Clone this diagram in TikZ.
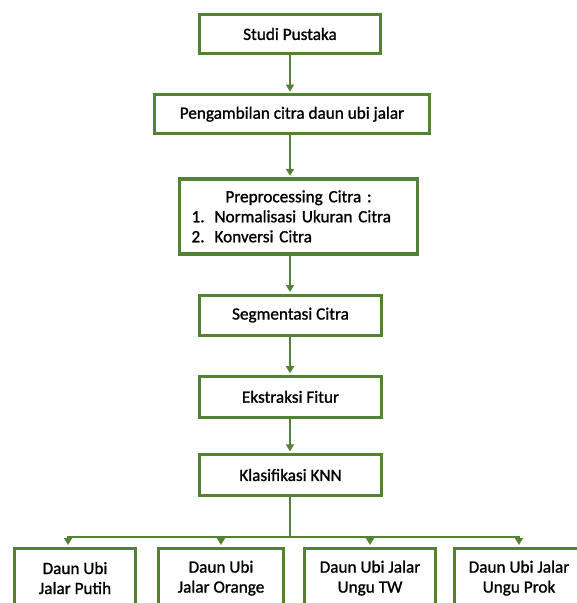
\documentclass[tikz,border=0pt]{standalone}
\usepackage{fontspec}
\setmainfont{Carlito}
\newfontfamily\boxfont{Carlito}[FakeBold=1.2]
\usetikzlibrary{positioning, arrows.meta}
\definecolor{leafgreen}{RGB}{84,130,53}
\tikzset{stepbox/.style={rectangle, draw=leafgreen, line width=3.2pt, fill=white, inner sep=0pt, text centered, font=\boxfont\fontsize{17.2}{20}\selectfont},
         leafbox/.style={stepbox, align=center, minimum height=60pt, anchor=north},
         flow/.style={draw=leafgreen, line width=2pt, -{Triangle[length=7pt,width=8pt]}, shorten >=1.5pt},
         trunk/.style={draw=leafgreen, line width=2pt}}

\begin{document}
\begin{tikzpicture}[x=1pt, y=-1pt]
        \useasboundingbox (0,0) rectangle (577,603);

        \node (studi)[stepbox, minimum width=181pt, minimum height=39pt] at (290,34) {Studi Pustaka};

        \node (ambil)[stepbox, minimum width=275pt, minimum height=39pt, below=38pt of studi, xshift=2pt]{Pengambilan citra daun ubi jalar};
        \draw [flow] (studi.south) -- (studi.south |- ambil.north);
        \node (prepro)[stepbox, minimum width=238pt, minimum height=75pt, text width=214pt, align=left, below=42pt of ambil, xshift=6.5pt]{\makebox[214pt]{Preprocessing Citra :}\\\makebox[23pt][l]{1.}Normalisasi Ukuran Citra\\\makebox[23pt][l]{2.}Konversi Citra};
        \draw [flow] (studi.south |- ambil.south) -- (studi.south |- prepro.north);
        \node (segmen)[stepbox, minimum width=182pt, minimum height=40pt, below=38pt of prepro, xshift=-8pt]{Segmentasi Citra};
        \draw [flow] (studi.south |- prepro.south) -- (studi.south |- segmen.north);
        \node (fitur)[stepbox, minimum width=182pt, minimum height=41pt, below=38pt of segmen]{Ekstraksi Fitur};
        \draw [flow] (studi.south |- segmen.south) -- (studi.south |- fitur.north);
        \node (knn)[stepbox, minimum width=182pt, minimum height=41pt, below=34pt of fitur]{Klasifikasi KNN};
        \draw [flow] (studi.south |- fitur.south) -- (studi.south |- knn.north);

        % hasil klasifikasi
        \node (putih)[leafbox, minimum width=121pt] at (75,546.5) {Daun Ubi\\Jalar Putih};
        \node (orange)[leafbox, minimum width=125pt] at (221,546.5) {Daun Ubi\\Jalar Orange};
        \node (tw)[leafbox, minimum width=131pt] at (370,546.5) {Daun Ubi Jalar\\Ungu TW};
        \node (prok)[leafbox, minimum width=129pt] at (519,546.5) {Daun Ubi Jalar\\Ungu Prok};

        \draw [trunk] (studi.south |- knn.south) -- ++(0,39.5) coordinate (split);
        \draw [flow] (split) -| ([xshift=-7pt]putih.north);
        \draw [flow] (split) -| (orange.north);
        \draw [flow] (split) -| (tw.north);
        \draw [flow] (split) -| (prok.north);
    \end{tikzpicture}
\end{document}
